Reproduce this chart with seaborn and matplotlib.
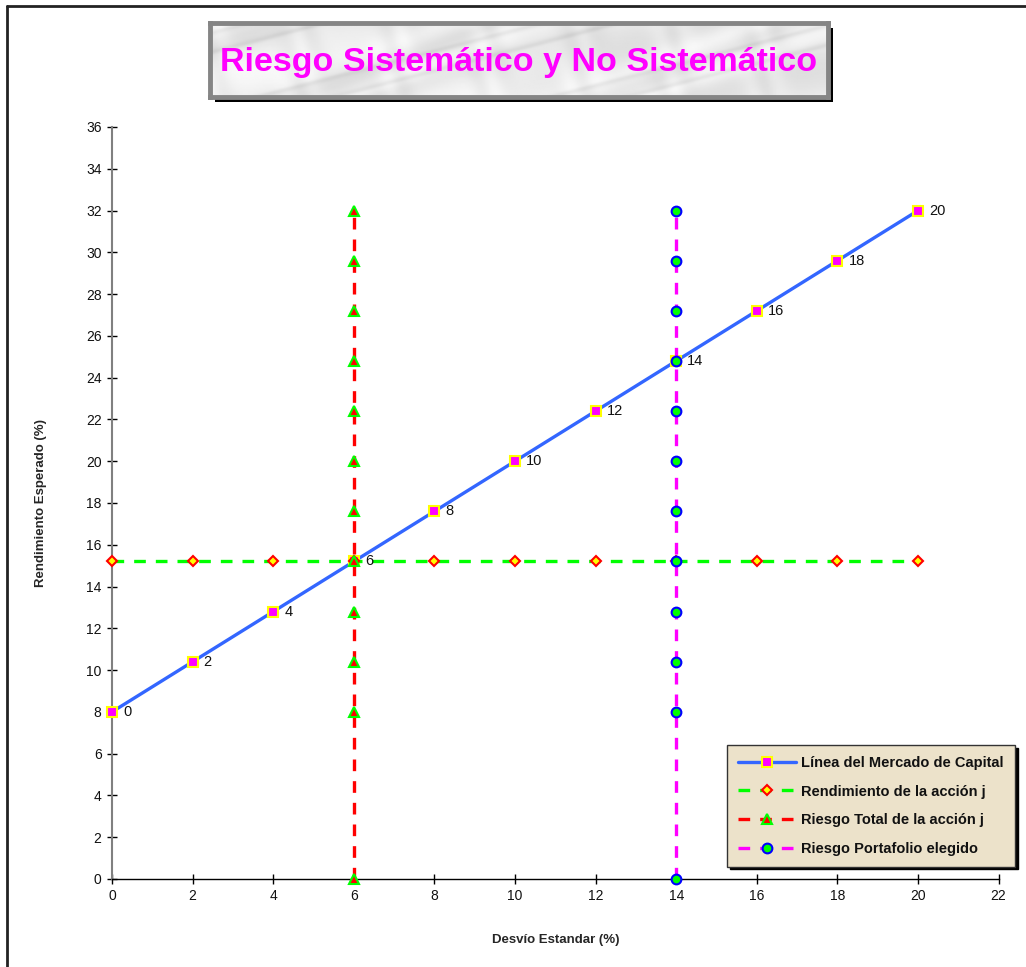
import numpy as np
import pandas as pd
import matplotlib
matplotlib.use("Agg")
import matplotlib.pyplot as plt
from matplotlib.lines import Line2D
from matplotlib.patches import Rectangle
import seaborn as sns

# ---- data -------------------------------------------------------------
cml_x = [0, 2, 4, 6, 8, 10, 12, 14, 16, 18, 20]
cml_y = [8, 10.4, 12.8, 15.2, 17.6, 20, 22.4, 24.8, 27.2, 29.6, 32]
cml_labels = ["0", "2", "4", "6", "8", "10", "12", "14", "16", "18", "20"]

rend_x = [0, 2, 4, 6, 8, 10, 12, 14, 16, 18, 20]
rend_y = [15.2, 15.2, 15.2, 15.2, 15.2, 15.2, 15.2, 15.2, 15.2, 15.2, 15.2]

total_x = [6, 6, 6, 6, 6, 6, 6, 6, 6, 6, 6, 6]
total_y = [0, 8, 10.4, 12.8, 15.2, 17.6, 20, 22.4, 24.8, 27.2, 29.6, 32]

port_x = [14, 14, 14, 14, 14, 14, 14, 14, 14, 14, 14, 14]
port_y = [0, 8, 10.4, 12.8, 15.2, 17.6, 20, 22.4, 24.8, 27.2, 29.6, 32]

series_names = ["Línea del Mercado de Capital",
                "Rendimiento de la acción j",
                "Riesgo Total de la acción j",
                "Riesgo Portafolio elegido"]

title_text = "Riesgo Sistemático y No Sistemático"
x_ticks = [0, 2, 4, 6, 8, 10, 12, 14, 16, 18, 20, 22]
y_ticks = [0, 2, 4, 6, 8, 10, 12, 14, 16, 18, 20, 22, 24, 26, 28, 30, 32, 34, 36]

# ---- style ------------------------------------------------------------
sns.set_theme(style="white")
plt.rcParams["font.family"] = ["Liberation Sans", "DejaVu Sans"]

W, H = 1026, 967
fig = plt.figure(figsize=(W / 100, H / 100), dpi=100)
fig.patch.set_facecolor("white")

# outer frame (top and left edges)
fig.add_artist(Line2D([7 / W, 7 / W], [0, 1 - 6 / H], transform=fig.transFigure,
                      color="#222222", lw=2))
fig.add_artist(Line2D([7 / W, 1], [1 - 6 / H, 1 - 6 / H], transform=fig.transFigure,
                      color="#222222", lw=2))

ax = fig.add_axes([112 / W, 1 - 879 / H, (998.6 - 112) / W, (879 - 127) / H])
ax.set_facecolor("white")

styles = [
    dict(color="#3366ff", lw=2.4, ls="-", marker="s", ms=7,
         mfc="#ff00ff", mec="#ffff00", mew=1.5),
    dict(color="#00ff00", lw=2.4, ls=(0, (3.5, 3)), marker="D", ms=5.5,
         mfc="#ffff00", mec="#ff0000", mew=1.5),
    dict(color="#ff0000", lw=2.4, ls=(0, (3.5, 3)), marker="^", ms=7,
         mfc="#ff0000", mec="#00ff00", mew=1.5),
    dict(color="#ff00ff", lw=2.4, ls=(0, (3.5, 3)), marker="o", ms=7,
         mfc="#00ff00", mec="#0000ff", mew=1.5),
]

data = [(rend_x, rend_y), (total_x, total_y), (port_x, port_y), (cml_x, cml_y)]
order = [1, 2, 3, 0]
for (xs, ys), idx in zip(data, order):
    st = styles[idx]
    df = pd.DataFrame({"x": xs, "y": ys})
    sns.lineplot(data=df, x="x", y="y", ax=ax, estimator=None, sort=False,
                 color=st["color"], linewidth=st["lw"], linestyle=st["ls"],
                 marker=st["marker"], markersize=st["ms"],
                 markerfacecolor=st["mfc"], markeredgecolor=st["mec"],
                 markeredgewidth=st["mew"], legend=False, zorder=3 + idx,
                 clip_on=False)

for xv, yv, lab in zip(cml_x, cml_y, cml_labels):
    ax.annotate(lab, (xv, yv), xytext=(8, 0), textcoords="offset points",
                ha="left", va="center", fontsize=10.5, color="#111111", zorder=10)

ax.set_xlim(0, 22)
ax.set_ylim(0, 36)
ax.set_xticks(x_ticks)
ax.set_yticks(y_ticks)
ax.tick_params(axis="both", which="major", direction="inout", length=7, width=1,
               color="black", labelsize=10, labelcolor="#111111", pad=4,
               bottom=True, left=True)
for side in ["top", "right"]:
    ax.spines[side].set_visible(False)
ax.spines["left"].set_color("#808080")
ax.spines["left"].set_linewidth(1.5)
ax.spines["bottom"].set_color("black")
ax.spines["bottom"].set_linewidth(1)
ax.set_xlabel("Desvío Estandar (%)", fontsize=9.5, fontweight="bold", labelpad=22)
ax.set_ylabel("Rendimiento Esperado (%)", fontsize=9.5, fontweight="bold", labelpad=28)
ax.grid(False)

# ---- title box -------------------------------------------------------
tx0, ty0, tx1, ty1 = 210, 23, 828, 97
shadow = Rectangle(((tx0 + 5) / W, 1 - (ty1 + 5) / H), (tx1 - tx0) / W, (ty1 - ty0) / H,
                   transform=fig.transFigure, facecolor="black", edgecolor="none", zorder=1)
fig.add_artist(shadow)
tax = fig.add_axes([tx0 / W, 1 - ty1 / H, (tx1 - tx0) / W, (ty1 - ty0) / H], zorder=2)
gx, gy = np.meshgrid(np.linspace(0, 6, 400), np.linspace(0, 1, 60))
marble = (0.92 + 0.03 * np.sin(4 * gx + 9 * gy + 1.8 * np.sin(3.1 * gy + 2.3 * gx))
          + 0.02 * np.sin(11 * gx - 5 * gy + 2 * np.sin(7 * gx))
          - 0.06 * np.exp(-((np.sin(2.2 * gx + 6 * gy) - 0.7) ** 2) * 40))
tax.imshow(marble, cmap="gray", vmin=0, vmax=1, aspect="auto",
           extent=[0, 1, 0, 1], interpolation="bilinear")
tax.set_xlim(0, 1)
tax.set_ylim(0, 1)
tax.set_xticks([])
tax.set_yticks([])
for sp in tax.spines.values():
    sp.set_color("#858585")
    sp.set_linewidth(3.5)
tax.text(0.5, 0.47, title_text, ha="center", va="center", fontsize=24.5,
         fontweight="bold", color="#ff00ff", transform=tax.transAxes)

# ---- legend ----------------------------------------------------------
handles = []
for st, name in zip(styles, series_names):
    handles.append(Line2D([], [], color=st["color"], lw=st["lw"], ls=st["ls"],
                          marker=st["marker"], ms=st["ms"], mfc=st["mfc"],
                          mec=st["mec"], mew=st["mew"], label=name))
lx0, ly0, lx1, ly1 = 727, 745, 1022, 862
leg = fig.legend(handles=handles, loc="upper left",
                 bbox_to_anchor=(lx0 / W, 1 - ly0 / H), frameon=True,
                 fancybox=False, shadow={"color": "black", "alpha": 1.0},
                 prop={"weight": "bold", "size": 10.5}, handlelength=4.0,
                 handletextpad=0.35, labelspacing=1.0, borderpad=0.75,
                 borderaxespad=0)
frame = leg.get_frame()
frame.set_facecolor("#ece2ca")
frame.set_edgecolor("#333333")
frame.set_linewidth(1)
for t in leg.get_texts():
    t.set_color("#111111")

fig.savefig("out.png", dpi=100)
